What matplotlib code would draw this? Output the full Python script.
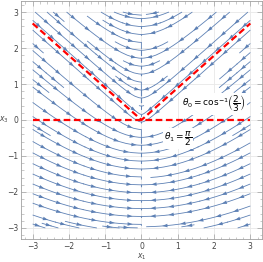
import numpy as np
import matplotlib.pyplot as plt
from matplotlib.patches import FancyArrowPatch
from matplotlib.ticker import MultipleLocator

# streamlines are level sets of x3 - cos(theta0) * r
COS_THETA0 = 2.0 / 3.0
X1_RANGE = [-3.0, 3.0]
X3_RANGE = [-3.0, 3.0]
TICKS = [-3, -2, -1, 0, 1, 2, 3]
THETA0_LABEL = r"$\theta_0 = \cos^{-1}\!\left(\dfrac{2}{3}\right)$"
THETA1_LABEL = r"$\theta_1 = \dfrac{\pi}{2}$"

STREAM_COLOR = "#5E81B5"
FRAME_COLOR = "#a0a0a0"
LABEL_COLOR = "#444444"

plt.rcParams.update({
    "font.family": "DejaVu Sans",
    "mathtext.fontset": "dejavusans",
    "font.size": 5.5,
})

x1 = np.linspace(X1_RANGE[0], X1_RANGE[1], 241)
x3 = np.linspace(X3_RANGE[0], X3_RANGE[1], 241)
X1, X3 = np.meshgrid(x1, x3)
R = np.hypot(X1, X3)
R[R == 0] = 1e-9
# tangent to x3 - c*r = const, flow pushed towards x1 = 0
U = -X1 * (1 - COS_THETA0 * X3 / R)
V = -X1 * (COS_THETA0 * X1 / R)

# seeds: next to the x1 = 0 axis first, then along the outer edges
ys = np.arange(-2.9, 2.95, 0.22)
edge = np.arange(-2.9, 2.95, 0.25)
seeds = [(sx, y) for y in ys for sx in (-0.07, 0.07)]
seeds += [(x, 2.97) for x in edge] + [(-2.97, y) for y in edge] + [(2.97, y) for y in edge]
seeds += [(x, -2.97) for x in edge]

fig = plt.figure(figsize=(2.63, 2.62), dpi=100)
ax = fig.add_axes([0.080, 0.086, 0.916, 0.912])

for t in TICKS:
    ax.axvline(t, color="#e8e8e8", lw=0.6, zorder=0)
    ax.axhline(t, color="#e8e8e8", lw=0.6, zorder=0)

strm = ax.streamplot(x1, x3, U, V, density=1.1, color=STREAM_COLOR,
                     linewidth=0.6, arrowstyle="-", minlength=0.05,
                     start_points=np.array(seeds), zorder=2)

# arrowheads every fixed arc length along each streamline
spacing = 0.5
for seg in strm.lines.get_segments():
    if len(seg) < 3:
        continue
    d = np.hypot(np.diff(seg[:, 0]), np.diff(seg[:, 1]))
    s = np.concatenate([[0], np.cumsum(d)])
    L = s[-1]
    if L < 0.25:
        continue
    n = max(1, int(L / spacing))
    start = (L - (n - 1) * spacing) / 2
    for k in range(n):
        sk = start + k * spacing
        if sk <= 0.03 or sk >= L - 0.03:
            continue
        pa = np.array([np.interp(sk - 0.03, s, seg[:, 0]), np.interp(sk - 0.03, s, seg[:, 1])])
        pb = np.array([np.interp(sk + 0.03, s, seg[:, 0]), np.interp(sk + 0.03, s, seg[:, 1])])
        ax.add_patch(FancyArrowPatch(pa, pb, arrowstyle="-|>,head_length=0.38,head_width=0.13",
                                     mutation_scale=10, color=STREAM_COLOR, lw=0,
                                     shrinkA=0, shrinkB=0, zorder=3))

# reference directions
cot0 = COS_THETA0 / np.sqrt(1 - COS_THETA0 ** 2)
vx = np.array(X1_RANGE[:1] + [0.0] + X1_RANGE[1:])
ax.plot(vx, np.abs(vx) * cot0, color="red", lw=1.6, ls=(0, (3, 1.6)), zorder=4)
ax.plot(X1_RANGE, [0, 0], color="red", lw=1.6, ls=(0, (3, 1.6)), zorder=4)

ax.text(2.0, 0.45, THETA0_LABEL, fontsize=6.5, ha="center", va="center", zorder=5,
        bbox=dict(facecolor="white", edgecolor="none", pad=0.6))
ax.text(1.0, -0.52, THETA1_LABEL, fontsize=6.5, ha="center", va="center", zorder=5,
        bbox=dict(facecolor="white", edgecolor="none", pad=0.6))

ax.set_xlim(-3.32, 3.32)
ax.set_ylim(-3.32, 3.32)
ax.set_xticks(TICKS)
ax.set_yticks(TICKS)
ax.xaxis.set_minor_locator(MultipleLocator(0.2))
ax.yaxis.set_minor_locator(MultipleLocator(0.2))
ax.tick_params(which="both", direction="in", top=True, right=True,
               color=FRAME_COLOR, labelcolor=LABEL_COLOR, labelsize=5.5, pad=2)
ax.tick_params(which="major", length=3.5, width=0.5)
ax.tick_params(which="minor", length=1.8, width=0.4)
for sp in ax.spines.values():
    sp.set_color(FRAME_COLOR)
    sp.set_linewidth(0.6)
ax.set_xlabel(r"$x_1$", color=LABEL_COLOR, fontsize=5.5, labelpad=0.5)
ax.set_ylabel(r"$x_3$", color=LABEL_COLOR, fontsize=5.5, rotation=0, labelpad=2, va="center")

fig.savefig("out.png", dpi=100)
